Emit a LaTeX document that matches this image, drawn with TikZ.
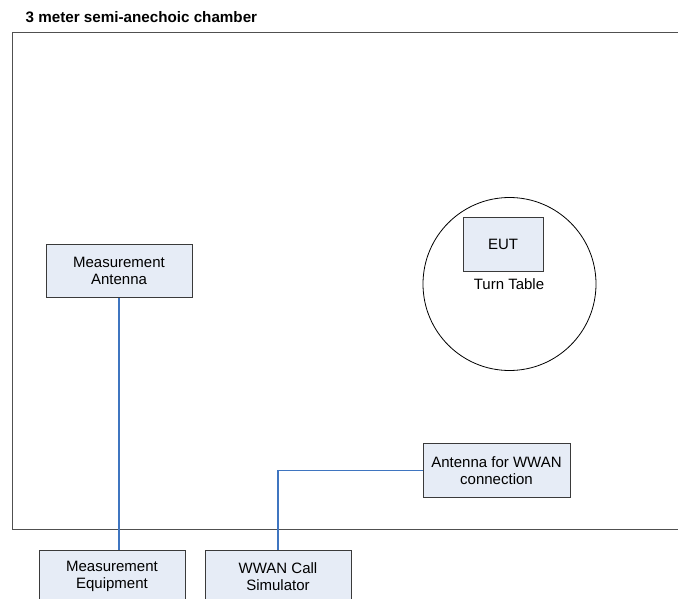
\documentclass[tikz,border=0pt]{standalone}
\usepackage{fontspec}
\setmainfont{Liberation Sans}
\begin{document}
\begin{tikzpicture}[x=1pt,y=-1pt,
  box/.style={draw=boxline, fill=boxfill, line width=1pt, inner sep=0pt,
    minimum width=146pt, minimum height=53pt, align=center,
    font=\fontsize{15}{17.5}\selectfont},
  wire/.style={draw=wireblue, line width=1.2pt},
  lbl/.style={inner sep=0pt, font=\fontsize{15}{17.5}\selectfont}]
\definecolor{boxline}{HTML}{3A3A3A}
\definecolor{boxfill}{HTML}{E6ECF6}
\definecolor{wireblue}{HTML}{3F75C0}
\definecolor{chamberline}{HTML}{505050}
\useasboundingbox (0,0) rectangle (678,599);
\clip (0,0) rectangle (678,599);
\fill[white] (0,0) rectangle (678,599);
% title
\node[anchor=base west, inner sep=0pt, font=\bfseries\fontsize{15.2}{17}\selectfont] (title) at (25.5,23) {3 meter semi-anechoic chamber};
% chamber
\draw[chamberline, line width=1.1pt] (700,32.5) -- (12.5,32.5) -- (12.5,529.5) -- (700,529.5);
% turn table
\node[draw=black, line width=0.8pt, circle, minimum size=173pt, inner sep=0pt] (tt) at (509.5,284) {};
\node[box, minimum width=80pt, minimum height=53pt] (eut) at (503,244.5) {EUT};
\node[lbl] (ttl) at (509,284) {Turn Table};
% boxes
\node[box] (ma) at (119,271) {Measurement\\Antenna};
\node[box, minimum width=147pt, minimum height=54pt] (aw) at (496.5,470.5) {Antenna for WWAN\\connection};
\node[box] (me) at (112,576.5) {Measurement\\Equipment};
\node[box] (wcs) at (278,576.5) {WWAN Call\\Simulator};
% connectors
\draw[wire] (ma.south) -- (ma.south |- me.north);
\draw[wire] (aw.west) -| (wcs.north);
\end{tikzpicture}
\end{document}
